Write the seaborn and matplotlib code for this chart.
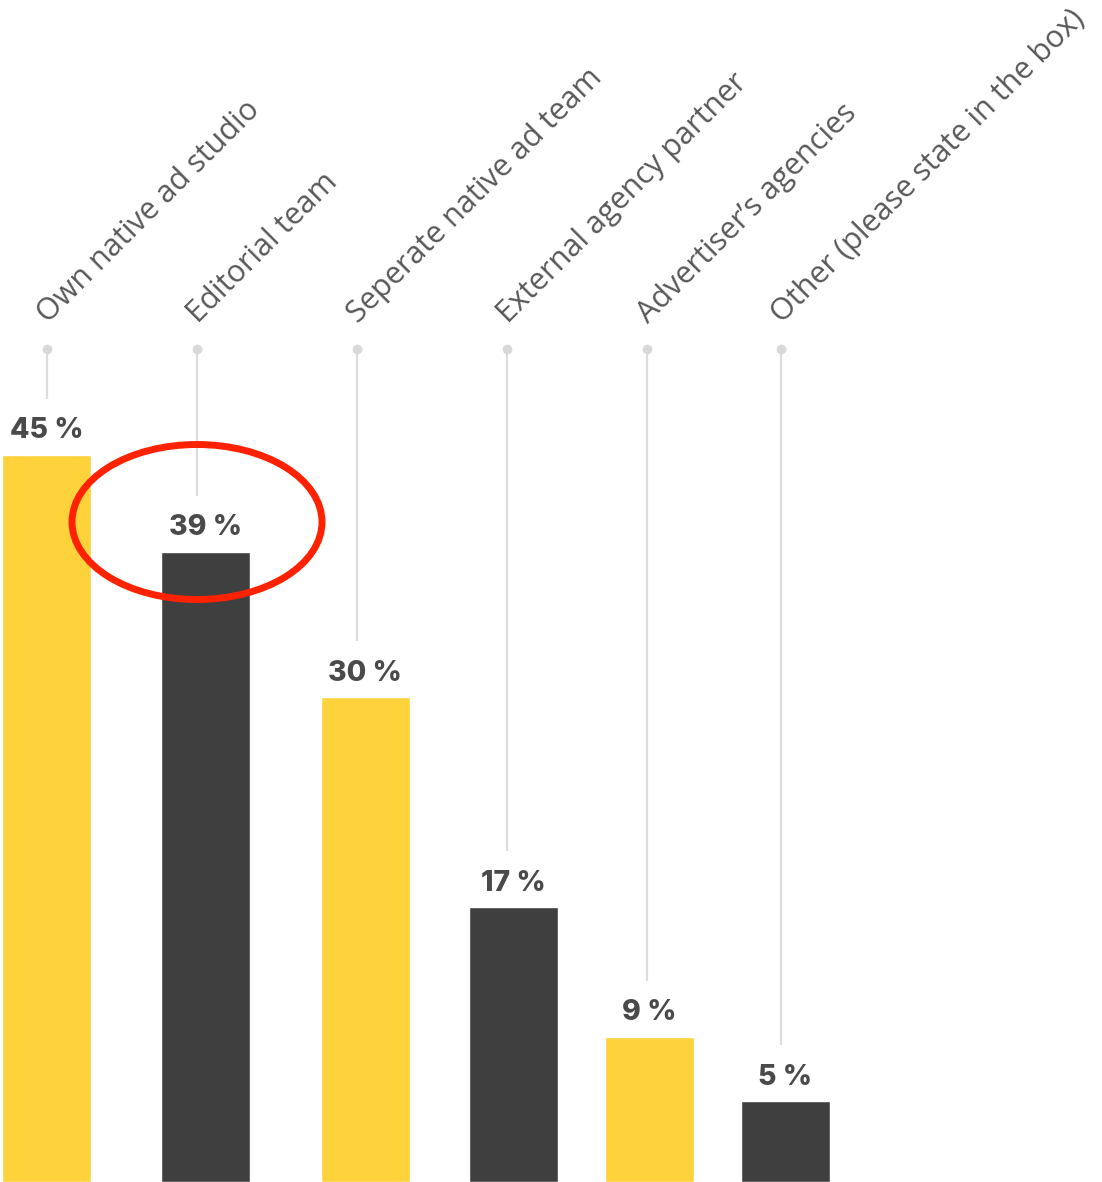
import matplotlib
matplotlib.use("Agg")
import matplotlib.pyplot as plt
from matplotlib.patches import Ellipse
import seaborn as sns

# Survey answers and their shares (percent)
categories = [
    "Own native ad studio",
    "Editorial team",
    "Seperate native ad team",
    "External agency partner",
    "Advertiser\u2019s agencies",
    "Other (please state in the box)",
]
shares = [45, 39, 30, 17, 9, 5]
value_labels = [f"{v} %" for v in shares]

# Layout (pixel units along x)
bar_centers = [46.5, 205.5, 365, 513, 649, 785.5]
stem_x = [46.5, 197, 357, 507, 647, 781]
bar_colors = ["#FED23B", "#3F3F3F", "#FED23B", "#3F3F3F", "#FED23B", "#3F3F3F"]

W, H = 1102, 1182
PX_PER_PCT = 16.16


def py(p):
    """Convert a pixel row (from top) to the value axis."""
    return (H - p) / PX_PER_PCT


sns.set_theme(style="white")
plt.rcParams["font.family"] = ["Open Sans", "DejaVu Sans"]

fig = plt.figure(figsize=(W / 100, H / 100), dpi=100)
ax = fig.add_axes([0, 0, 1, 1])

sns.barplot(
    x=bar_centers, y=shares, hue=categories, palette=bar_colors,
    native_scale=True, width=89 / 136, dodge=False, legend=False,
    saturation=1, ax=ax,
)

ax.set_xlim(0, W)
ax.set_ylim(0, H / PX_PER_PCT)
ax.axis("off")

dot_y = py(349)
for sx, v, cat in zip(stem_x, shares, categories):
    top_px = H - v * PX_PER_PCT
    ax.plot([sx, sx], [py(top_px - 56), dot_y], color="#DCDCDC", lw=1.6,
            solid_capstyle="butt", zorder=1)
    ax.plot([sx], [dot_y], marker="o", ms=7, color="#D8D8D8", mec="none", zorder=2)
    ax.text(sx + 1, py(324), cat, rotation=45, rotation_mode="anchor",
            ha="left", va="baseline", fontsize=22, color="#585858",
            fontweight="normal")

for cx, v, lab in zip(bar_centers, shares, value_labels):
    ax.annotate(lab, (cx, v), xytext=(0, 24), textcoords="offset pixels",
                ha="center", va="center", fontsize=20.5, fontweight="heavy",
                color="#4A4A4A", family=["Inter", "DejaVu Sans"])

ax.add_patch(Ellipse((197, py(522)), 250, 155 / PX_PER_PCT, fill=False,
                     edgecolor="#FF2200", lw=5, zorder=5))

fig.savefig("out.png", dpi=100)
